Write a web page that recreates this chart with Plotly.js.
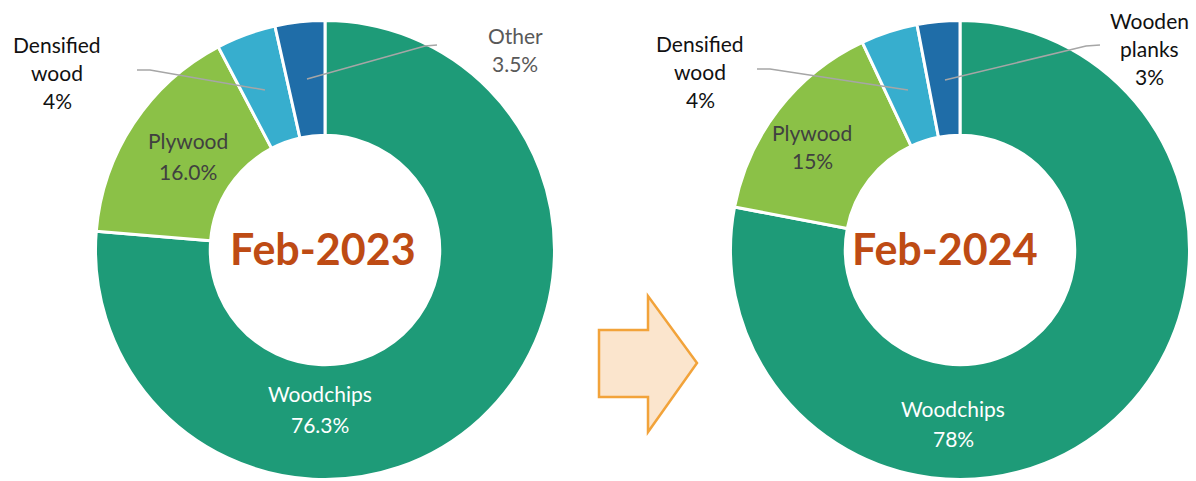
<!DOCTYPE html>
<html>
<head>
<meta charset="utf-8">
<script src="https://cdn.plot.ly/plotly-3.0.1.min.js"></script>
<style>html,body{margin:0;padding:0;background:#fff;}#chart{width:1196px;height:481px;}</style>
</head>
<body>
<div id="chart"></div>
<script>
// ---- data ----
const categories2023 = ['Woodchips', 'Plywood', 'Densified wood', 'Other'];
const values2023 = [76.3, 16.0, 4.2, 3.5];
const valueLabels2023 = ['76.3%', '16.0%', '4%', '3.5%'];
const categories2024 = ['Woodchips', 'Plywood', 'Densified wood', 'Wooden planks'];
const values2024 = [78, 15, 4, 3];
const valueLabels2024 = ['78%', '15%', '4%', '3%'];
const centerTitles = ['Feb-2023', 'Feb-2024'];
const sliceColors = ['#1E9B78', '#8BC147', '#37AECE', '#1F6DA8'];

// ---- layout helpers ----
const W = 1196, H = 481;
const px = x => x / W;
const py = y => 1 - y / H;
const FONT = 'Lato, "Open Sans", sans-serif';

function pie(cats, vals, cx, cy, r) {
  return {
    type: 'pie', labels: cats, values: vals, sort: false, direction: 'clockwise', rotation: 0,
    hole: 0.5, textinfo: 'none', hoverinfo: 'label+percent',
    marker: {colors: sliceColors, line: {color: '#ffffff', width: 3}},
    domain: {x: [px(cx - r), px(cx + r)], y: [py(cy + r), py(cy - r)]},
    showlegend: false
  };
}

const annotations = [];
function label(x, yFirst, lines, color, size, spacing) {
  lines.forEach((t, i) => {
    annotations.push({
      xref: 'paper', yref: 'paper', x: px(x), y: py(yFirst + i * spacing),
      text: t, showarrow: false, xanchor: 'center', yanchor: 'middle',
      font: {family: FONT, size: size, color: color}
    });
  });
}
const shapes = [];
function leader(pts) {
  const d = pts.map((p, i) => (i ? 'L' : 'M') + px(p[0]) + ',' + py(p[1])).join(' ');
  shapes.push({type: 'path', xref: 'paper', yref: 'paper', path: d, line: {color: '#A6A6A6', width: 1.5}});
}
function splitName(name) {
  return name.split(' ');
}

const data = [
  pie(categories2023, values2023, 325, 250, 229.5),
  pie(categories2024, values2024, 960, 250, 229.5)
];

const LS = 21;
// Left donut labels
label(320, 393, [categories2023[0], valueLabels2023[0]], '#ffffff', LS, 31);
label(188, 141, [categories2023[1], valueLabels2023[1]], '#404040', LS, 30);
label(57, 44, splitName(categories2023[2]).concat([valueLabels2023[2]]), '#111111', LS, 28);
label(515, 35, [categories2023[3], valueLabels2023[3]], '#595959', LS, 28);
leader([[137, 70], [150, 70], [265, 90]]);
leader([[437, 45], [425, 46], [307, 79]]);

// Right donut labels
label(953, 408, [categories2024[0], valueLabels2024[0]], '#ffffff', LS, 30);
label(812, 133, [categories2024[1], valueLabels2024[1]], '#404040', LS, 28);
label(700, 43, splitName(categories2024[2]).concat([valueLabels2024[2]]), '#111111', LS, 28);
label(1149, 20, splitName(categories2024[3]).concat([valueLabels2024[3]]), '#111111', LS, 28);
leader([[757, 69], [770, 69], [908, 90]]);
leader([[1100, 45], [1086, 46], [945, 80]]);

// Center titles
[[323, 248], [945, 248]].forEach((c, i) => {
  annotations.push({
    xref: 'paper', yref: 'paper', x: px(c[0]), y: py(c[1]), text: '<b>' + centerTitles[i] + '</b>',
    showarrow: false, xanchor: 'center', yanchor: 'middle',
    font: {family: FONT, size: 43, color: '#BE4B14'}
  });
});

// Arrow between the donuts
const arrowPts = [[599, 330], [648, 330], [648, 296], [697, 363], [648, 432], [648, 397], [599, 397]];
shapes.push({
  type: 'path', xref: 'paper', yref: 'paper',
  path: arrowPts.map((p, i) => (i ? 'L' : 'M') + px(p[0]) + ',' + py(p[1])).join(' ') + ' Z',
  fillcolor: '#FBE5CD', line: {color: '#F2A33A', width: 2.5}
});

const layout = {
  width: W, height: H, margin: {l: 0, r: 0, t: 0, b: 0},
  paper_bgcolor: '#ffffff', plot_bgcolor: '#ffffff',
  annotations: annotations, shapes: shapes, showlegend: false,
  font: {family: FONT}
};
Plotly.newPlot('chart', data, layout, {displayModeBar: false, staticPlot: true});
</script>
</body>
</html>
